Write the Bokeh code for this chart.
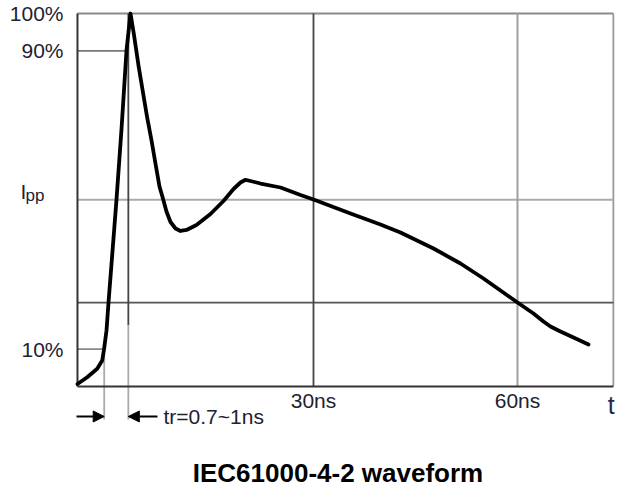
from bokeh.plotting import figure
from bokeh.models import Arrow, NormalHead
from bokeh.core.properties import value
from bokeh.embed import file_html
from bokeh.resources import INLINE

# ---- data (time in ns, current in % of peak) ----
t_ns = [-4.71, -3.28, -1.81, -1.07, -0.81, -0.44, -0.15, 1.03, 1.76, 2.50, 3.09,
        3.57, 4.31, 5.54, 6.18, 6.76, 7.35, 7.90, 8.38, 8.97, 9.71, 10.44, 11.32,
        12.79, 14.85, 16.76, 18.24, 19.26, 20.0, 20.74, 22.21, 25.15, 28.09, 30.0,
        35.44, 39.85, 42.79, 47.65, 51.62, 55.0, 57.5, 60.0, 62.35, 63.82, 64.85,
        66.32, 68.24, 70.44]
i_pct = [0.67, 2.49, 4.75, 6.97, 9.92, 15.01, 22.39, 50.13, 68.90, 90.08, 100.0,
         94.64, 85.52, 72.12, 65.95, 59.79, 53.62, 50.13, 46.92, 44.10, 42.36, 41.69, 41.96,
         43.30, 46.25, 49.73, 52.95, 54.69, 55.42, 55.09, 54.42, 53.35, 51.34, 50.13,
         46.40, 43.43, 41.29, 36.99, 32.98, 28.95, 25.74, 22.52, 19.57, 17.43, 16.09,
         14.75, 13.14, 11.26]

y_ticks = [10, 90, 100]
y_tick_labels = ["10%", "90%", "100%"]
x_ticks = [30, 60]
x_tick_labels = ["30ns", "60ns"]
ipp_level = 50.1
low_level = 22.5
t_left = -4.71
t_right = 74.1
t10 = -0.78      # 10% crossing time
t90 = 2.77       # marker line at the 90% / peak time
x90_end = 2.35
x10_end = -0.96
marker_y = -8.04
marker_bottom = -8.85
dark_split = 16.4
rise_text = "tr=0.7~1ns"
title_text = "IEC61000-4-2 waveform"

FONT = "Liberation Sans"
TXT = "#1e2230"

p = figure(width=623, height=488, output_backend="svg", toolbar_location=None,
           x_range=(-16.03, 75.59), y_range=(-27.35, 103.49),
           x_axis_location=None, y_axis_location=None,
           min_border=0, min_border_left=0, min_border_right=0,
           min_border_top=0, min_border_bottom=0, title=None)
p.grid.visible = False
p.outline_line_color = None
p.background_fill_color = "white"
p.border_fill_color = "white"

# grid / frame lines
def seg(x0, y0, x1, y1, color, w):
    p.segment(x0=[x0], y0=[y0], x1=[x1], y1=[y1], line_color=color, line_width=w)

seg(t_left, 100, t_right, 100, "#8a8a8a", 1.8)          # top border
seg(t_right, 0, t_right, 100, "#9a9a9a", 1.8)           # right border
seg(t_left, ipp_level, t_right, ipp_level, "#ababab", 2)
seg(t_left, low_level, t_right, low_level, "#555555", 1.8)
seg(t_left, 90, x90_end, 90, "#777777", 1.8)
seg(t_left, 10, x10_end, 10, "#888888", 1.8)
seg(30, 0, 30, 100, "#444444", 1.8)
seg(60, 0, 60, 100, "#a0a0a0", 2)
seg(t90, dark_split, t90, 100, "#444444", 1.8)
seg(t90, marker_bottom, t90, dark_split, "#aaaaaa", 1.8)
seg(t10, marker_bottom, t10, 10, "#aaaaaa", 1.8)
seg(t_left, 0, t_left, 100, "#333333", 2)              # left axis
seg(t_left, 0, t_right, 0, "#333333", 2)               # bottom axis

# waveform
p.line(t_ns, i_pct, line_color="black", line_width=3.8, line_join="round", line_cap="round")

# tick labels (placed through the data scales)
p.text(x=[-6.76] * len(y_ticks), y=y_ticks, text=y_tick_labels, text_font=value(FONT),
       text_font_size="21px", text_color=TXT, text_align="right", text_baseline="middle")
p.text(x=x_ticks, y=[-3.75] * len(x_ticks), text=x_tick_labels, text_font=value(FONT),
       text_font_size="21px", text_color=TXT, text_align="center", text_baseline="middle")

# Ipp label
p.text(x=[-13.09], y=[52.3], text=["I"], text_font=value(FONT), text_font_size="21px",
       text_color=TXT, text_baseline="middle")
p.text(x=[-12.35], y=[51.3], text=["pp"], text_font=value(FONT), text_font_size="17px",
       text_color=TXT, text_baseline="middle")

# rise-time markers
p.add_layout(Arrow(end=NormalHead(size=11, fill_color="black", line_color="black"),
                   x_start=-4.85, y_start=marker_y, x_end=t10, y_end=marker_y,
                   line_color="black", line_width=2))
p.add_layout(Arrow(end=NormalHead(size=11, fill_color="black", line_color="black"),
                   x_start=7.06, y_start=marker_y, x_end=t90, y_end=marker_y,
                   line_color="black", line_width=2))
p.text(x=[7.94], y=[marker_y], text=[rise_text], text_font=value(FONT),
       text_font_size="21px", text_color=TXT, text_baseline="middle")

# t label
p.text(x=[73.8], y=[-4.96], text=["t"], text_font=value(FONT), text_font_size="25px",
       text_color="#1e2a50", text_align="center", text_baseline="middle")

# title
p.text(x=[33.6], y=[-23.1], text=[title_text], text_font=value(FONT), text_font_size="26px",
       text_font_style="bold", text_color="black", text_align="center",
       text_baseline="middle")

open("out.html", "w").write(file_html(p, INLINE))
